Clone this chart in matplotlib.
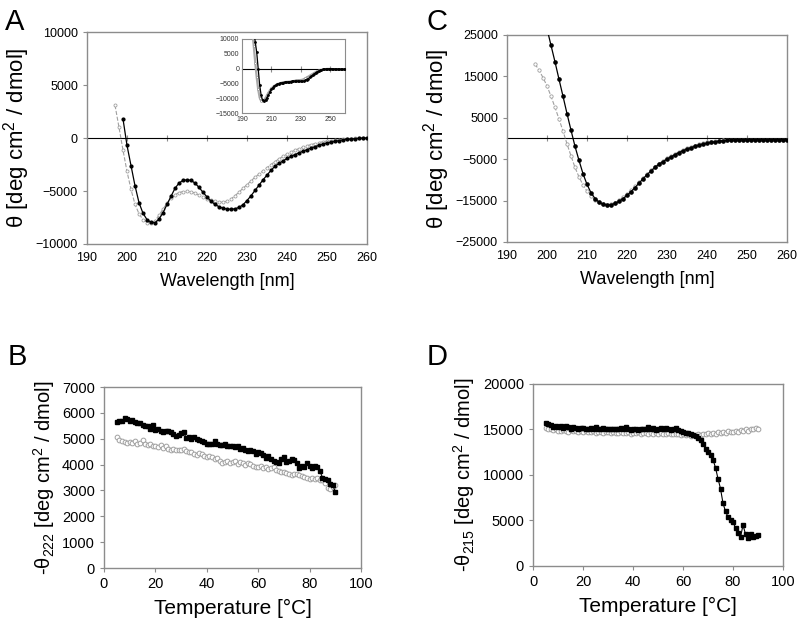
import matplotlib
matplotlib.use("Agg")
import matplotlib.pyplot as plt

plt.rcParams['font.family'] = ['Liberation Sans', 'DejaVu Sans']
plt.rcParams['mathtext.fontset'] = 'custom'
plt.rcParams['mathtext.rm'] = 'Liberation Sans'
plt.rcParams['mathtext.it'] = 'Liberation Sans:italic'

# ---------------- Panel A data (wavelength scans) ----------------
wl_a_black = list(range(199, 261))
theta_a_black = [1800, -700, -2600, -4500, -6100, -7100, -7700, -7950, -8000, -7650,
                 -7050, -6270, -5500, -4750, -4250, -4000, -3940, -4000, -4250, -4660,
                 -5120, -5560, -5960, -6270, -6480, -6630, -6700, -6720, -6680, -6550,
                 -6300, -5900, -5450, -4950, -4450, -3950, -3500, -3050, -2660, -2400,
                 -2160, -1930, -1730, -1560, -1400, -1250, -1100, -950, -820, -700,
                 -580, -470, -390, -320, -250, -180, -130, -90, -60, -30,
                 -10, 0]
wl_a_gray = list(range(197, 261))
theta_a_gray = [3100, 1000, -1150, -3150, -4850, -6250, -7150, -7700, -8000, -8050,
                -7800, -7300, -6700, -6150, -5700, -5350, -5150, -5050, -5030, -5080,
                -5200, -5380, -5570, -5750, -5880, -5980, -6040, -6060, -5950, -5750,
                -5450, -5100, -4750, -4400, -4050, -3700, -3400, -3100, -2800, -2500,
                -2220, -1970, -1740, -1520, -1320, -1150, -1000, -860, -730, -620,
                -520, -430, -350, -290, -240, -190, -150, -110, -80, -60,
                -40, -25, -10, 0]

# inset of panel A
wl_in_black = list(range(197, 261))
theta_in_black = [17000, 13000, 9000, 5500, 0, -5500, -9000, -10700, -11000, -10600,
                  -9800, -8800, -7800, -7000, -6400, -5900, -5550, -5300, -5100, -4950,
                  -4800, -4700, -4600, -4550, -4500, -4450, -4400, -4350, -4300, -4250,
                  -4200, -4200, -4250, -4300, -4300, -4200, -4000, -3700, -3350, -3000,
                  -2600, -2200, -1800, -1400, -1100, -850, -600, -450, -300, -200,
                  -150, -100, -50, 0, -50, -100, -120, -150, -170, -200,
                  -220, -230, -240, -250]
wl_in_gray = list(range(197, 261))
theta_in_gray = [12500, 7500, 2000, -3000, -7000, -9800, -10900, -11000, -10600, -9900,
                 -9000, -8100, -7300, -6700, -6200, -5800, -5500, -5250, -5050, -4900,
                 -4750, -4650, -4550, -4500, -4450, -4400, -4350, -4300, -4200, -4100,
                 -4000, -3950, -3900, -3850, -3750, -3550, -3300, -3000, -2700, -2400,
                 -2100, -1800, -1500, -1200, -950, -750, -550, -400, -300, -200,
                 -150, -100, -100, -100, -150, -180, -200, -220, -240, -260,
                 -270, -280, -290, -300]

# ---------------- Panel C data ----------------
wl_c_black = list(range(200, 261))
theta_c_black = [26500, 22500, 18500, 14300, 10200, 6000, 2000, -1900, -5300, -8500,
                 -11100, -13100, -14500, -15400, -15900, -16050, -16000, -15700, -15200, -14550,
                 -13750, -12850, -11850, -10800, -9750, -8750, -7850, -7000, -6250, -5600,
                 -5000, -4450, -3900, -3400, -2950, -2550, -2200, -1900, -1600, -1350,
                 -1150, -950, -780, -630, -520, -440, -380, -340, -310, -290,
                 -280, -270, -270, -260, -260, -260, -250, -250, -250, -250,
                 -250]
wl_c_gray = list(range(197, 261))
theta_c_gray = [18000, 16500, 14700, 12700, 10200, 7500, 4700, 1800, -1300, -4200,
                -7000, -9300, -11200, -12700, -13900, -14800, -15400, -15800, -15950, -15850,
                -15500, -14950, -14250, -13400, -12500, -11500, -10450, -9450, -8500, -7600,
                -6800, -6050, -5400, -4800, -4250, -3700, -3200, -2750, -2350, -2000,
                -1700, -1400, -1150, -950, -780, -640, -520, -440, -380, -340,
                -310, -290, -280, -270, -260, -260, -260, -250, -250, -250,
                -250, -250, -250, -250]

# ---------------- Panel B data (thermal melt at 222 nm) ----------------
temp_b = list(range(5, 91))
theta222_black = [5650, 5700, 5680, 5820, 5780, 5700, 5720, 5630, 5600, 5610,
                  5550, 5500, 5480, 5380, 5550, 5350, 5380, 5300, 5250, 5280,
                  5300, 5250, 5180, 5120, 5160, 5220, 5250, 5020, 5050, 5000,
                  5080, 4980, 4950, 4900, 4880, 4800, 4780, 4800, 4930, 4780,
                  4760, 4750, 4780, 4720, 4700, 4720, 4680, 4700, 4620, 4650,
                  4560, 4530, 4560, 4520, 4400, 4500, 4450, 4380, 4250, 4320,
                  4200, 4150, 4100, 4050, 4200, 4300, 4100, 4150, 4200, 4180,
                  4050, 3850, 3950, 3900, 4050, 3950, 3850, 3950, 3900, 3750,
                  3500, 3450, 3400, 3250, 3200, 2950]
theta222_gray = [5050, 4950, 4900, 4880, 4850, 4880, 4820, 4900, 4780, 4850,
                 4950, 4800, 4750, 4800, 4720, 4700, 4680, 4750, 4650, 4700,
                 4600, 4550, 4620, 4550, 4580, 4560, 4600, 4520, 4480, 4500,
                 4420, 4380, 4450, 4400, 4350, 4300, 4350, 4280, 4200, 4250,
                 4150, 4050, 4100, 4120, 4060, 4100, 4150, 4020, 4100, 4080,
                 4000, 4050, 4020, 3950, 3900, 3920, 3950, 3880, 3900, 3820,
                 3850, 3900, 3780, 3750, 3720, 3700, 3680, 3650, 3600, 3650,
                 3620, 3580, 3550, 3520, 3480, 3450, 3500, 3430, 3480, 3400,
                 3420, 3300, 3100, 3050, 3150, 3200]

# ---------------- Panel D data (thermal melt at 215 nm) ----------------
temp_d = list(range(5, 91))
theta215_black = [15700, 15600, 15450, 15300, 15400, 15250, 15350, 15200, 15400, 15250,
                  15100, 15300, 15150, 15050, 15150, 15200, 15100, 15050, 15150, 15100,
                  15250, 15100, 15050, 15150, 15050, 15000, 15100, 15000, 15050, 15000,
                  15150, 15050, 15250, 15100, 14950, 15000, 15100, 14950, 15050, 15000,
                  15100, 15250, 15050, 15150, 14950, 15100, 15200, 15000, 15150, 15050,
                  14950, 15100, 15200, 14900, 14800, 14750, 14650, 14600, 14500, 14400,
                  14250, 14050, 13800, 13450, 12900, 12500, 12150, 11700, 10800, 9600,
                  8500, 6900, 6000, 5400, 5100, 4800, 4200, 3600, 3150, 4500,
                  3500, 3100, 3500, 3200, 3300, 3450]
theta215_gray = [15150, 15050, 15000, 14900, 15050, 14850, 14800, 14950, 14800, 14750,
                 14900, 14800, 14850, 14750, 14800, 14700, 14850, 14750, 14700, 14800,
                 14650, 14750, 14700, 14650, 14750, 14700, 14600, 14700, 14650, 14600,
                 14700, 14650, 14600, 14700, 14550, 14650, 14600, 14700, 14550, 14600,
                 14650, 14500, 14600, 14550, 14650, 14500, 14600, 14550, 14450, 14600,
                 14500, 14550, 14450, 14500, 14400, 14550, 14400, 14450, 14300, 14400,
                 14350, 14450, 14400, 14500, 14450, 14600, 14500, 14650, 14550, 14700,
                 14600, 14750, 14650, 14800, 14700, 14750, 14850, 14700, 14900, 14800,
                 15050, 14850, 15100, 15000, 15200, 15050]

SPINE = '#8c8c8c'
GRAYC = '#a0a0a0'

fig = plt.figure(figsize=(8, 6.3), dpi=100)


def style_axes(ax, tick_fs):
    for s in ax.spines.values():
        s.set_color(SPINE)
        s.set_linewidth(1.0)
    ax.tick_params(axis='both', colors=SPINE, labelcolor='black', labelsize=tick_fs,
                   length=3, width=0.8, direction='out')


def zero_line(ax, ticks, frac):
    sec = ax.secondary_xaxis(frac)
    sec.set_xticks(ticks)
    sec.tick_params(axis='x', direction='inout', length=5, width=0.8, colors=SPINE,
                    labelbottom=False, labeltop=False)
    sec.spines['bottom'].set_color(SPINE)
    sec.spines['bottom'].set_linewidth(1.0)
    return sec


def black_series(ax, x, y, ms, marker='o', lw=1.0):
    ax.plot(x, y, color='black', lw=lw, marker=marker, ms=ms, mfc='black', mec='black', zorder=4)


def gray_series(ax, x, y, ms, lw=0.8):
    ax.plot(x, y, color=GRAYC, lw=lw, ls='--', marker='o', ms=ms, mfc='white', mec=GRAYC,
            mew=0.6, zorder=3)


# ---- Panel A ----
axA = fig.add_axes([0.10875, 0.6127, 0.35, 0.3365])
gray_series(axA, wl_a_gray, theta_a_gray, 2.2)
black_series(axA, wl_a_black, theta_a_black, 2.0, lw=0.9)
axA.set_xlim(190, 260)
axA.set_ylim(-10000, 10000)
axA.set_xticks(range(190, 261, 10))
axA.set_yticks([-10000, -5000, 0, 5000, 10000])
style_axes(axA, 9)
axA.tick_params(axis='x', length=0, pad=6)
zero_line(axA, range(200, 251, 10), 0.5)
axA.set_xlabel('Wavelength [nm]', fontsize=13, labelpad=6)
axA.set_ylabel('θ [deg cm$^{2}$ / dmol]', fontsize=16, labelpad=3)
fig.text(0.006, 0.988, 'A', fontsize=21, va='top', ha='left')

# inset
axI = fig.add_axes([0.3025, 0.8206, 0.12875, 0.1175])
axI.plot(wl_in_gray, theta_in_gray, color='#aaaaaa', lw=1.6, marker='o', ms=1.4,
         mfc='white', mec='#888888', mew=0.4, zorder=3)
axI.plot(wl_in_black, theta_in_black, color='black', lw=0.9, marker='o', ms=1.0, zorder=4)
axI.set_xlim(190, 260)
axI.set_ylim(-15000, 10000)
axI.set_xticks([190, 210, 230, 250])
axI.set_yticks([-15000, -10000, -5000, 0, 5000, 10000])
for s in axI.spines.values():
    s.set_color(SPINE)
    s.set_linewidth(0.8)
axI.tick_params(axis='both', labelsize=5, length=0, pad=2, colors=SPINE, labelcolor='#333333')
zero_line(axI, [210, 230, 250], 0.6)

# ---- Panel C ----
axC = fig.add_axes([0.63375, 0.6159, 0.35, 0.3286])
gray_series(axC, wl_c_gray, theta_c_gray, 2.4)
black_series(axC, wl_c_black, theta_c_black, 2.3, lw=0.9)
axC.set_xlim(190, 260)
axC.set_ylim(-25000, 25000)
axC.set_xticks(range(190, 261, 10))
axC.set_yticks([-25000, -15000, -5000, 5000, 15000, 25000])
style_axes(axC, 9)
axC.tick_params(axis='x', length=0, pad=6)
zero_line(axC, range(200, 251, 10), 0.5)
axC.set_xlabel('Wavelength [nm]', fontsize=13, labelpad=6)
axC.set_ylabel('θ [deg cm$^{2}$ / dmol]', fontsize=16, labelpad=3)
fig.text(0.533, 0.988, 'C', fontsize=21, va='top', ha='left')

# ---- Panel B ----
axB = fig.add_axes([0.13, 0.0984, 0.32125, 0.2873])
axB.plot(temp_b, theta222_gray, ls='none', marker='o', ms=3.4, mfc='white', mec=GRAYC, mew=0.7, zorder=3)
black_series(axB, temp_b, theta222_black, 3.2, marker='s', lw=0.8)
axB.set_xlim(0, 100)
axB.set_ylim(0, 7000)
axB.set_xticks(range(0, 101, 20))
axB.set_yticks(range(0, 7001, 1000))
style_axes(axB, 10.5)
axB.set_xlabel('Temperature [°C]', fontsize=15, labelpad=6)
axB.set_ylabel('-θ$_{222}$ [deg cm$^{2}$ / dmol]', fontsize=14.5, labelpad=4)
fig.text(0.01, 0.455, 'B', fontsize=21, va='top', ha='left')

# ---- Panel D ----
axD = fig.add_axes([0.66625, 0.1016, 0.3125, 0.2889])
axD.plot(temp_d, theta215_gray, ls='none', marker='o', ms=3.4, mfc='white', mec=GRAYC, mew=0.7, zorder=3)
black_series(axD, temp_d, theta215_black, 3.2, marker='s', lw=0.8)
axD.set_xlim(0, 100)
axD.set_ylim(0, 20000)
axD.set_xticks(range(0, 101, 20))
axD.set_yticks(range(0, 20001, 5000))
style_axes(axD, 10.5)
axD.set_xlabel('Temperature [°C]', fontsize=15, labelpad=6)
axD.set_ylabel('-θ$_{215}$ [deg cm$^{2}$ / dmol]', fontsize=14.5, labelpad=4)
fig.text(0.533, 0.455, 'D', fontsize=21, va='top', ha='left')

fig.savefig('out.png', dpi=100, facecolor='white')
